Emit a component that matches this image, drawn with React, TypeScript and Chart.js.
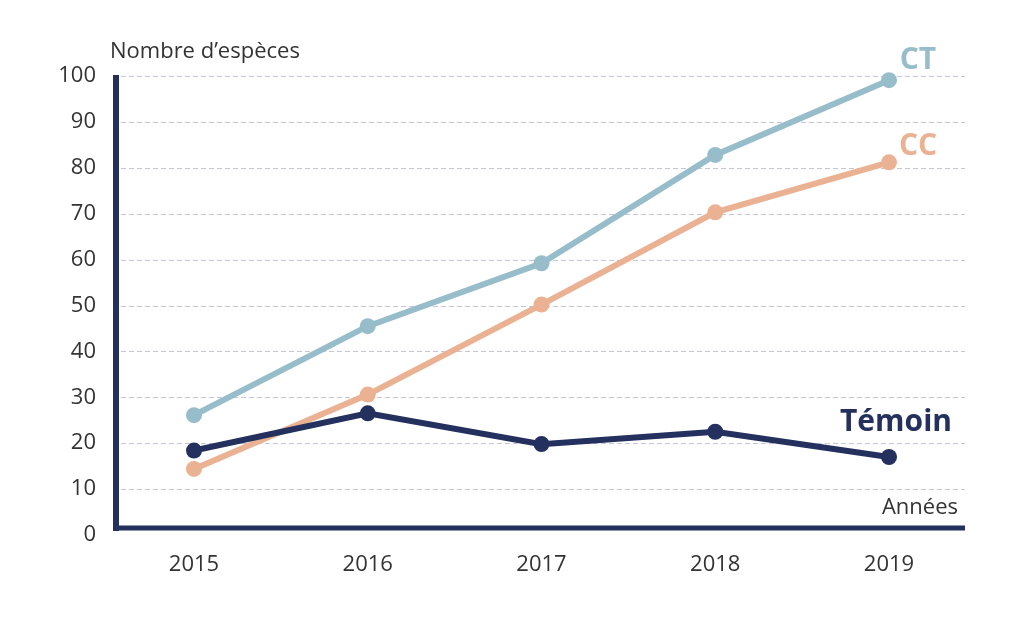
import React, { useEffect, useRef } from "react";
import { Chart, registerables } from "chart.js";

Chart.register(...registerables);

const years = ["2015", "2016", "2017", "2018", "2019"];
const ctValues = [26.1, 45.5, 59.2, 82.8, 99.1];
const ccValues = [14.4, 30.6, 50.2, 70.3, 81.2];
const temoinValues = [18.4, 26.5, 19.8, 22.5, 17.0];
const yTicks = [0, 10, 20, 30, 40, 50, 60, 70, 80, 90, 100];

const NAVY = "#24305e";
const CT_COLOR = "#97bdca";
const CC_COLOR = "#ebb193";
const TEXT = "#333333";
const GRID = "#c3c6d8";
const FONT = "'Open Sans', sans-serif";

const decorPlugin = {
  id: "decor",
  beforeDatasetsDraw(chart: any) {
    const { ctx } = chart;
    const y = chart.scales.y;
    ctx.save();
    ctx.strokeStyle = GRID;
    ctx.lineWidth = 1;
    ctx.setLineDash([5, 3]);
    yTicks.forEach((t) => {
      if (t === 0) return;
      const py = Math.round(y.getPixelForValue(t)) + 0.5;
      ctx.beginPath();
      ctx.moveTo(121, py);
      ctx.lineTo(965, py);
      ctx.stroke();
    });
    ctx.setLineDash([]);
    ctx.strokeStyle = NAVY;
    ctx.lineWidth = 6;
    const topY = y.getPixelForValue(100) - 1;
    const axisY = y.getPixelForValue(0) - 7;
    ctx.beginPath();
    ctx.moveTo(116, topY);
    ctx.lineTo(116, axisY + 3);
    ctx.stroke();
    ctx.lineWidth = 5;
    ctx.beginPath();
    ctx.moveTo(113, axisY);
    ctx.lineTo(965, axisY);
    ctx.stroke();
    ctx.restore();
  },
  afterDraw(chart: any) {
    const { ctx } = chart;
    ctx.save();
    ctx.textBaseline = "middle";
    ctx.font = `22px ${FONT}`;
    ctx.fillStyle = TEXT;
    ctx.textAlign = "left";
    ctx.fillText("Nombre d’espèces", 110, 52);
    ctx.textAlign = "right";
    ctx.fillText("Années", 958, 508);
    ctx.font = `bold 30px ${FONT}`;
    ctx.textAlign = "center";
    ctx.fillStyle = CT_COLOR;
    ctx.fillText("CT", 918, 60);
    ctx.fillStyle = CC_COLOR;
    ctx.fillText("CC", 918, 146);
    ctx.fillStyle = NAVY;
    ctx.fillText("Témoin", 896, 422);
    ctx.restore();
  },
};

function ds(label: string, data: number[], color: string) {
  return {
    label,
    data,
    borderColor: color,
    backgroundColor: color,
    pointBackgroundColor: color,
    pointBorderColor: color,
    borderWidth: 6,
    pointRadius: 8,
    pointBorderWidth: 0,
    tension: 0,
    clip: false as any,
  };
}

export default function App() {
  const ref = useRef<HTMLCanvasElement | null>(null);
  useEffect(() => {
    if (!ref.current) return;
    const chart = new Chart(ref.current, {
      type: "line",
      data: {
        labels: years,
        datasets: [
          ds("Témoin", temoinValues, NAVY),
          ds("CC", ccValues, CC_COLOR),
          ds("CT", ctValues, CT_COLOR),
        ],
      },
      options: {
        animation: false,
        responsive: false,
        maintainAspectRatio: false,
        layout: { padding: { left: 0, right: 135, top: 76, bottom: 0 } },
        plugins: {
          legend: { display: false },
          tooltip: { enabled: false },
        },
        scales: {
          x: {
            type: "category",
            offset: false,
            grid: { display: false, drawTicks: true, tickLength: 14 },
            border: { display: false },
            ticks: {
              color: TEXT,
              font: { family: FONT, size: 22 },
              padding: 3,
              maxRotation: 0,
            },
            afterFit(scale: any) {
              scale.height = 83;
            },
          },
          y: {
            type: "linear",
            min: 0,
            max: 100,
            grid: { display: false, drawTicks: true, tickLength: 92 },
            border: { display: false },
            ticks: {
              stepSize: 10,
              color: TEXT,
              font: { family: FONT, size: 22 },
              padding: 6,
            },
            afterFit(scale: any) {
              scale.width = 194;
            },
          },
        },
      },
      plugins: [decorPlugin],
    });
    return () => chart.destroy();
  }, []);
  return (
    <div style={{ position: "fixed", left: 0, top: 0, width: 1024, height: 618, background: "#fff" }}>
      <canvas ref={ref} width={1024} height={618} style={{ width: 1024, height: 618 }} />
    </div>
  );
}
